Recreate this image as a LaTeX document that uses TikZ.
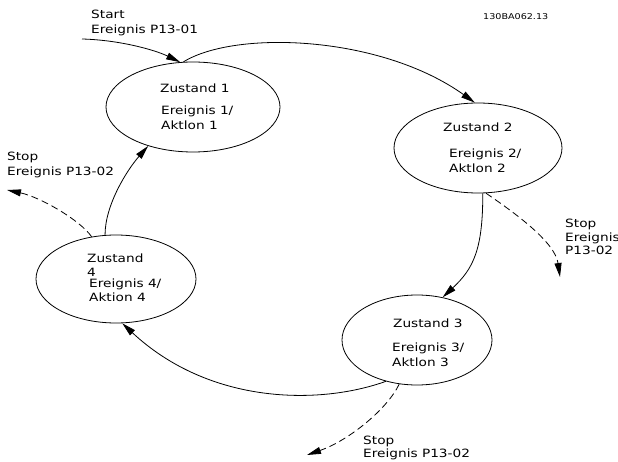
\documentclass[tikz,border=0pt]{standalone}
\usepackage{fontspec}
\setmainfont{DejaVu Sans}[FakeStretch=1.2]
\usetikzlibrary{shapes.geometric,arrows.meta}
\begin{document}
\begin{tikzpicture}[x=1pt,y=-1pt,
  state/.style={draw, ellipse, line width=0.8pt, inner sep=0pt},
  lbl/.style={inner sep=0pt, anchor=north west, align=left, font=\fontsize{11.4}{15}\selectfont},
  conn/.style={line width=0.8pt, -{Triangle[length=14pt,width=7pt]}},
  stopconn/.style={conn, dash pattern=on 7pt off 4pt}]
\useasboundingbox (0,0) rectangle (618,462);
\fill[white] (0,0) rectangle (618,462);
% states
\node[state, minimum width=174pt, minimum height=90pt] (e1) at (193,107) {};
\node[state, minimum width=168pt, minimum height=90pt] (e2) at (478,148) {};
\node[state, minimum width=150pt, minimum height=90pt] (e3) at (417,340) {};
\node[state, minimum width=160pt, minimum height=88pt] (e4) at (116,279) {};
% texts
\node[lbl] (z1) at (160,83.5) {Zustand 1};
\node[lbl] (a1) at (161,105.5) {Ereignis 1/\\Aktlon 1};
\node[lbl] (z2) at (443,122.5) {Zustand 2};
\node[lbl] (a2) at (449,148.5) {Ereignis 2/\\Aktlon 2};
\node[lbl] (z3) at (393,318.5) {Zustand 3};
\node[lbl] (a3) at (392,342.5) {Ereignis 3/\\Aktlon 3};
\node[lbl] (z4) at (87,253.5) {Zustand\\[-1pt]4};
\node[lbl] (a4) at (89,278.5) {Ereignis 4/\\[-1pt]Aktion 4};
\node[lbl] (start) at (91,9.5) {Start\\Ereignis P13-01};
\node[lbl] (stopl) at (7,151.5) {Stop\\Ereignis P13-02};
\node[lbl] (stopr) at (565,218.5) {Stop\\[-1pt]Ereignis\\[-2pt]P13-02};
\node[lbl] (stopb) at (363,435.5) {Stop\\[-2pt]Ereignis P13-02};
\node[lbl, font=\fontsize{8}{10}\selectfont] (code) at (483,13) {130BA062.13};
% connectors
\coordinate (s0) at (82,39);
\draw[conn] (s0) .. controls (120,40) and (155,50) .. (e1.106);
\draw[conn] (e1.102) .. controls (235,30) and (380,35) .. (e2.94);
\draw[conn] (e2.276) .. controls (483,250) and (473,269) .. (e3.59);
\draw[conn] (e3.233) .. controls (320,405) and (210,405) .. (e4.278);
\draw[conn] (e4.104) .. controls (105,205) and (127,170) .. (e1.221);
\coordinate (t2) at (560,277);
\draw[stopconn] (e2.280) .. controls (515,213) and (555,242) .. (t2);
\coordinate (t3) at (307,455);
\draw[stopconn] (e3.248) .. controls (388,408) and (350,440) .. (t3);
\coordinate (t4) at (7,190);
\draw[stopconn] (e4.120) .. controls (80,220) and (40,197) .. (t4);
\end{tikzpicture}
\end{document}
